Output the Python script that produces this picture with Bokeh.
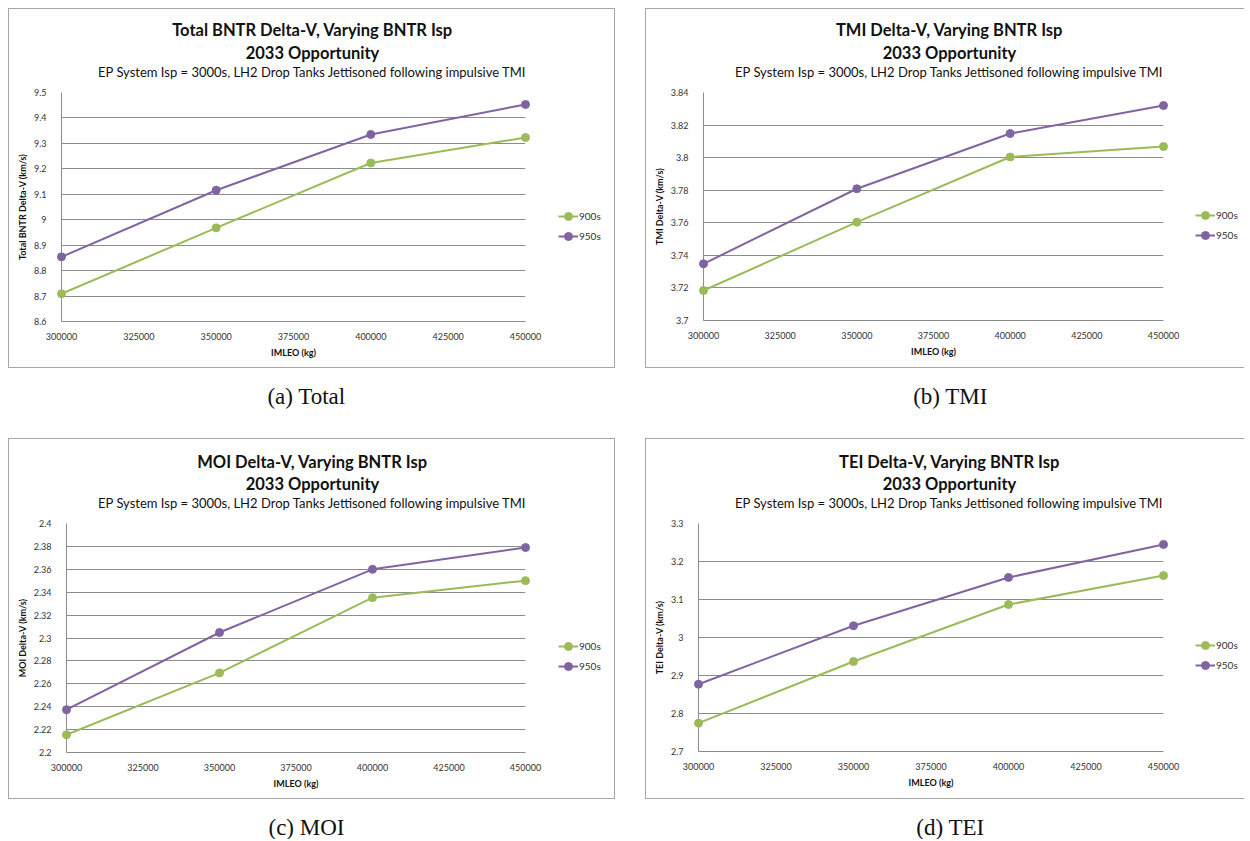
from bokeh.plotting import figure
from bokeh.models import Range1d, FixedTicker, Label, Legend, LegendItem, Spacer
from bokeh.layouts import column, row
from bokeh.embed import file_html
from bokeh.resources import INLINE

# ---------------- data ----------------
imleo = [300000, 350000, 400000, 450000]
x_ticks = [300000, 325000, 350000, 375000, 400000, 425000, 450000]
x_tick_labels = ["300000", "325000", "350000", "375000", "400000", "425000", "450000"]
series_names = ["900s", "950s"]

total_900 = [8.709, 8.968, 9.223, 9.323]
total_950 = [8.854, 9.116, 9.335, 9.453]
tmi_900 = [3.7184, 3.7604, 3.8004, 3.8068]
tmi_950 = [3.7348, 3.7809, 3.8148, 3.8320]
moi_900 = [2.2155, 2.2695, 2.3352, 2.3501]
moi_950 = [2.2374, 2.3048, 2.3600, 2.3790]
tei_900 = [2.7746, 2.9368, 3.0868, 3.1630]
tei_950 = [2.8770, 3.0310, 3.1580, 3.2450]

total_yticks = [8.6, 8.7, 8.8, 8.9, 9.0, 9.1, 9.2, 9.3, 9.4, 9.5]
total_ylabels = ["8.6", "8.7", "8.8", "8.9", "9", "9.1", "9.2", "9.3", "9.4", "9.5"]
tmi_yticks = [3.70, 3.72, 3.74, 3.76, 3.78, 3.80, 3.82, 3.84]
tmi_ylabels = ["3.7", "3.72", "3.74", "3.76", "3.78", "3.8", "3.82", "3.84"]
moi_yticks = [2.20, 2.22, 2.24, 2.26, 2.28, 2.30, 2.32, 2.34, 2.36, 2.38, 2.40]
moi_ylabels = ["2.2", "2.22", "2.24", "2.26", "2.28", "2.3", "2.32", "2.34", "2.36", "2.38", "2.4"]
tei_yticks = [2.7, 2.8, 2.9, 3.0, 3.1, 3.2, 3.3]
tei_ylabels = ["2.7", "2.8", "2.9", "3", "3.1", "3.2", "3.3"]

titles = ["Total BNTR Delta-V, Varying BNTR Isp", "TMI Delta-V, Varying BNTR Isp",
          "MOI Delta-V, Varying BNTR Isp", "TEI Delta-V, Varying BNTR Isp"]
title2 = "2033 Opportunity"
subtitle = "EP System Isp = 3000s, LH2 Drop Tanks Jettisoned following impulsive TMI"
ylabels_axis = ["Total BNTR Delta-V (km/s)", "TMI Delta-V (km/s)",
                "MOI Delta-V (km/s)", "TEI Delta-V (km/s)"]
xlabel = "IMLEO (kg)"
captions = ["(a) Total", "(b) TMI", "(c) MOI", "(d) TEI"]

GREEN = "#9bbb59"
PURPLE = "#8064a2"
GRID = "#8c8c8c"
BOX = "#a6a6a6"
FONT = "Lato"
BORDER = "1px solid " + BOX
TITLE_H = 75


def blank_fig(width, height, styles=None):
    f = figure(width=width, height=height, output_backend="svg", toolbar_location=None,
               x_range=Range1d(0, 1), y_range=Range1d(0, 1),
               min_border=0, min_border_left=0, min_border_right=0,
               min_border_top=0, min_border_bottom=0, styles=styles or {})
    f.axis.visible = False
    f.grid.visible = False
    f.outline_line_color = None
    return f


def make_panel(inner_w, plot_h, pw, frame_lr, frame_tb, title_ys, legend_xy,
               ys, yticks, ylabs, title, ylab, right_border=True):
    # title strip
    t_css = {"border-top": BORDER, "border-left": BORDER}
    if right_border:
        t_css["border-right"] = BORDER
    t = blank_fig(inner_w, TITLE_H, t_css)
    for txt, yy, size, style in [(title, title_ys[0], "16.5px", "bold"),
                                 (title2, title_ys[1], "16.5px", "bold"),
                                 (subtitle, title_ys[2], "13px", "normal")]:
        t.add_layout(Label(x=303, y=yy, x_units="screen", y_units="screen", text=txt,
                           text_align="center", text_baseline="middle",
                           text_font=FONT, text_font_size=size, text_font_style=style,
                           text_color="#111111"))

    mb_l, mb_r = frame_lr
    mb_t, mb_b = frame_tb
    p = figure(width=pw, height=plot_h, output_backend="svg", toolbar_location=None,
               x_range=Range1d(x_ticks[0], x_ticks[-1]),
               y_range=Range1d(yticks[0], yticks[-1]),
               min_border_left=mb_l, min_border_right=mb_r,
               min_border_top=mb_t, min_border_bottom=mb_b,
               styles={"border-left": BORDER, "border-bottom": BORDER})
    p.outline_line_color = None
    p.background_fill_color = "white"
    p.border_fill_color = "white"
    p.xgrid.grid_line_color = None
    p.ygrid.grid_line_color = GRID
    p.ygrid.grid_line_width = 1
    p.xaxis.ticker = FixedTicker(ticks=x_ticks)
    p.xaxis.major_label_overrides = {k: s for k, s in zip(x_ticks, x_tick_labels)}
    p.yaxis.ticker = FixedTicker(ticks=yticks)
    p.yaxis.major_label_overrides = {k: s for k, s in zip(yticks, ylabs)}
    for ax in (p.xaxis[0], p.yaxis[0]):
        ax.axis_line_color = GRID
        ax.axis_line_width = 1
        ax.major_tick_line_color = None
        ax.minor_tick_line_color = None
        ax.major_label_text_font = FONT
        ax.major_label_text_font_size = "9px"
        ax.major_label_text_color = "#333333"
        ax.axis_label_text_font = FONT
        ax.axis_label_text_font_size = "9px"
        ax.axis_label_text_font_style = "bold"
        ax.axis_label_text_color = "#111111"
    p.xaxis.major_label_standoff = 5
    p.xaxis.axis_label_standoff = 4
    p.yaxis.major_label_standoff = 9
    p.yaxis.axis_label_standoff = 3
    p.xaxis.axis_label = xlabel
    p.yaxis.axis_label = ylab

    for yv, col in zip(ys, [GREEN, PURPLE]):
        p.line(imleo, yv, line_color=col, line_width=2, level="overlay")
        p.scatter(imleo, yv, size=8, fill_color=col, line_color=col, level="overlay")

    # legend strip to the right of the plot (its renderers hold the same series,
    # which fall outside this strip's own ranges, so only the legend shows)
    lw = inner_w - pw
    l_css = {"border-bottom": BORDER}
    if right_border:
        l_css["border-right"] = BORDER
    lg = blank_fig(lw, plot_h, l_css)
    items = []
    for name, yv, col in zip(series_names, ys, [GREEN, PURPLE]):
        lr = lg.line(imleo, yv, line_color=col, line_width=2)
        sr = lg.scatter(imleo, yv, size=7, fill_color=col, line_color=col)
        items.append(LegendItem(label=name, renderers=[lr, sr]))
    leg = Legend(items=items, location=legend_xy, padding=0, spacing=0, margin=0,
                 glyph_width=20, glyph_height=20, label_height=20, label_standoff=1,
                 label_text_font=FONT, label_text_font_size="10px",
                 label_text_color="#333333",
                 border_line_color=None, background_fill_alpha=0)
    lg.add_layout(leg)
    return column(t, row(p, lg))


def make_caption(width, height, cx, cy_from_bottom, text):
    c = blank_fig(width, height)
    c.add_layout(Label(x=cx, y=cy_from_bottom, x_units="screen", y_units="screen", text=text,
                       text_align="center", text_baseline="middle",
                       text_font="Liberation Serif", text_font_size="23px",
                       text_color="#111111"))
    return c


pa = make_panel(607, 285, 540, (52, 24), (9, 47), (55, 32, 13), (10, 75),
                [total_900, total_950], total_yticks, total_ylabels, titles[0], ylabels_axis[0])
pb = make_panel(599, 285, 541, (57, 24), (9, 48), (55, 32, 13), (9, 75),
                [tmi_900, tmi_950], tmi_yticks, tmi_ylabels, titles[1], ylabels_axis[1],
                right_border=False)
pc = make_panel(607, 286, 540, (57, 24), (10, 47), (53, 31, 12), (10, 76),
                [moi_900, moi_950], moi_yticks, moi_ylabels, titles[2], ylabels_axis[2])
pd = make_panel(599, 286, 541, (52, 24), (10, 48), (53, 31, 12), (9, 76),
                [tei_900, tei_950], tei_yticks, tei_ylabels, titles[3], ylabels_axis[3],
                right_border=False)

ca = make_caption(609, 68, 298, 42, captions[0])
cb = make_caption(600, 68, 303, 42, captions[1])
cc = make_caption(609, 38, 298, 12, captions[2])
cd = make_caption(600, 38, 303, 12, captions[3])

grid = column(
    Spacer(width=10, height=8),
    row(pa, Spacer(width=30, height=362), pb),
    row(ca, Spacer(width=30, height=68), cb),
    row(pc, Spacer(width=30, height=363), pd),
    row(cc, Spacer(width=30, height=38), cd),
)
layout = row(Spacer(width=8, height=10), grid)

with open("out.html", "w") as f:
    f.write(file_html(layout, INLINE))
